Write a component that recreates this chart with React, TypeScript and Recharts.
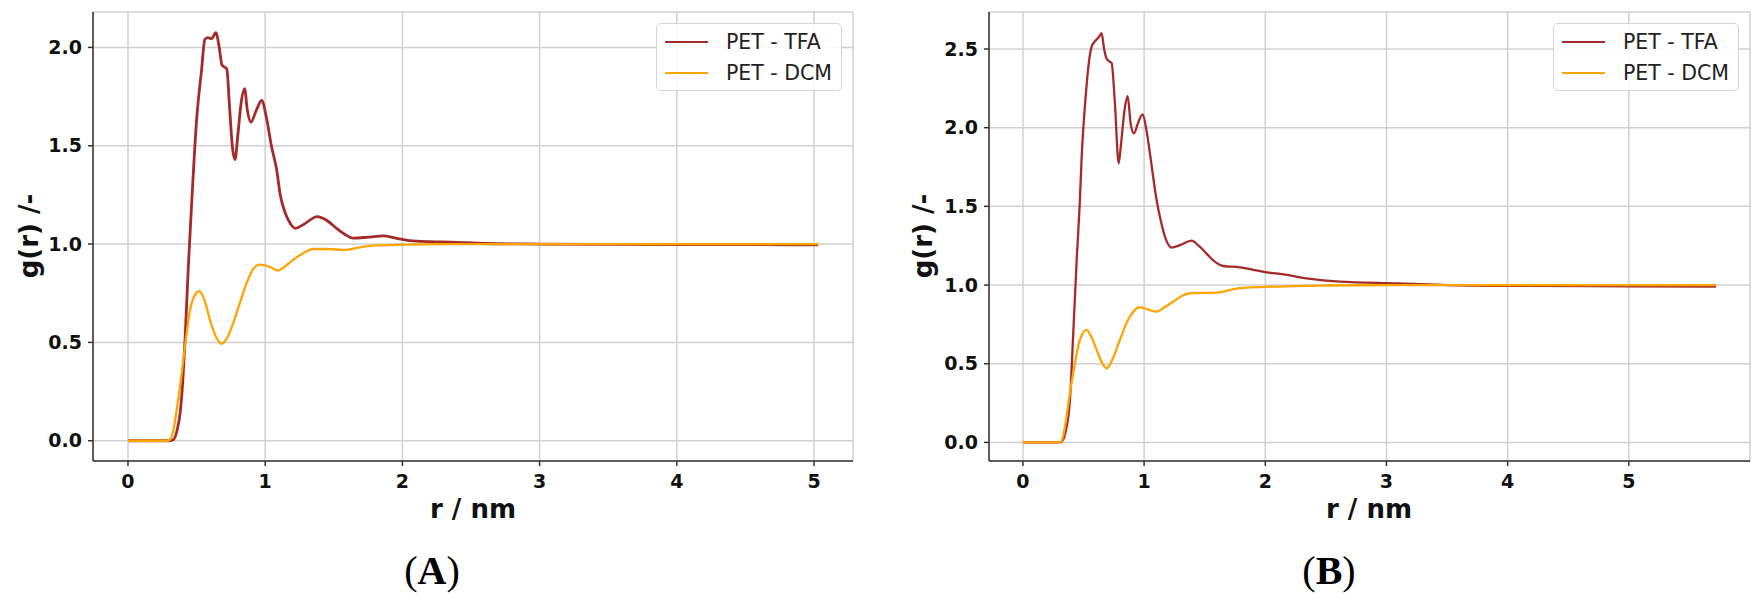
import React from "react";
import { LineChart, Line, XAxis, YAxis, CartesianGrid, Legend } from "recharts";

// panel A: r / nm and g(r)
const tfaA_r = [0, 0.3, 0.33, 0.36, 0.38, 0.4, 0.415, 0.44, 0.465, 0.5, 0.537, 0.56, 0.58, 0.61, 0.64, 0.665, 0.685, 0.72, 0.74, 0.76, 0.78, 0.8, 0.825, 0.85, 0.87, 0.896, 0.935, 0.974, 1.01, 1.045, 1.083, 1.11, 1.14, 1.17, 1.22, 1.28, 1.38, 1.45, 1.52, 1.58, 1.64, 1.75, 1.86, 1.95, 2.05, 2.2, 2.35, 2.6, 3.0, 3.5, 4.0, 4.5, 5.03];
const tfaA_g = [0, 0, 0.005, 0.06, 0.14, 0.31, 0.5, 0.89, 1.22, 1.63, 1.89, 2.04, 2.05, 2.045, 2.075, 2.0, 1.91, 1.89, 1.7, 1.5, 1.43, 1.55, 1.72, 1.79, 1.68, 1.62, 1.68, 1.73, 1.64, 1.5, 1.38, 1.25, 1.17, 1.12, 1.08, 1.1, 1.14, 1.12, 1.08, 1.05, 1.03, 1.035, 1.042, 1.03, 1.018, 1.012, 1.01, 1.003, 1.0, 0.998, 0.997, 0.997, 0.996];
const dcmA_r = [0, 0.29, 0.311, 0.335, 0.355, 0.38, 0.403, 0.43, 0.452, 0.48, 0.52, 0.56, 0.597, 0.64, 0.682, 0.72, 0.767, 0.815, 0.864, 0.91, 0.961, 1.03, 1.095, 1.15, 1.204, 1.28, 1.35, 1.45, 1.57, 1.7, 1.81, 2.0, 2.25, 3.0, 4.0, 5.03];
const dcmA_g = [0, 0, 0.01, 0.07, 0.157, 0.28, 0.41, 0.56, 0.666, 0.73, 0.76, 0.71, 0.615, 0.53, 0.493, 0.52, 0.598, 0.7, 0.8, 0.87, 0.895, 0.885, 0.866, 0.89, 0.92, 0.955, 0.975, 0.975, 0.97, 0.985, 0.993, 0.997, 1.0, 1.0, 1.0, 1.0];

// panel B
const tfaB_r = [0, 0.3, 0.319, 0.35, 0.388, 0.415, 0.443, 0.47, 0.484, 0.52, 0.545, 0.567, 0.602, 0.625, 0.649, 0.67, 0.69, 0.715, 0.732, 0.759, 0.79, 0.81, 0.84, 0.864, 0.89, 0.916, 0.95, 0.988, 1.02, 1.048, 1.103, 1.14, 1.172, 1.227, 1.3, 1.392, 1.45, 1.516, 1.58, 1.653, 1.79, 1.9, 2.01, 2.15, 2.34, 2.615, 3.11, 3.5, 4.0, 5.0, 5.72];
const tfaB_g = [0, 0, 0.005, 0.06, 0.27, 0.69, 1.15, 1.54, 1.8, 2.22, 2.42, 2.515, 2.555, 2.575, 2.6, 2.5, 2.44, 2.42, 2.41, 2.155, 1.774, 1.9, 2.12, 2.2, 2.02, 1.964, 2.03, 2.085, 1.98, 1.837, 1.54, 1.4, 1.307, 1.238, 1.255, 1.282, 1.25, 1.2, 1.15, 1.121, 1.113, 1.097, 1.081, 1.068, 1.043, 1.022, 1.011, 1.0, 0.995, 0.992, 0.99];
const dcmB_r = [0, 0.3, 0.319, 0.34, 0.36, 0.385, 0.415, 0.44, 0.47, 0.525, 0.565, 0.608, 0.65, 0.69, 0.74, 0.8, 0.85, 0.883, 0.965, 1.03, 1.103, 1.17, 1.24, 1.31, 1.378, 1.598, 1.79, 2.065, 2.48, 3.0, 5.72];
const dcmB_g = [0, 0, 0.01, 0.07, 0.164, 0.3, 0.44, 0.55, 0.651, 0.715, 0.67, 0.588, 0.51, 0.471, 0.53, 0.651, 0.75, 0.8, 0.859, 0.845, 0.831, 0.86, 0.895, 0.93, 0.948, 0.952, 0.98, 0.99, 0.997, 1.0, 1.0];

const seriesNames = ["PET - TFA", "PET - DCM"];
const xTicks = [0, 1, 2, 3, 4, 5];
const yTicksA = [0, 0.5, 1, 1.5, 2];
const yTicksB = [0, 0.5, 1, 1.5, 2, 2.5];

const zip = (r: number[], g: number[]) => r.map((x, i) => ({ r: x, g: g[i] }));

const FONT = "DejaVu Sans";
const TFA_COLOR = "#a52a2a";
const DCM_COLOR = "#ffa500";
const FRAME = "#333";

const tickStyle = { fontFamily: FONT, fontWeight: "bold", fontSize: 19, fill: "#111" };

function LegendBox({ payload }: any) {
  // keep the plotting order, not alphabetical
  const items = [...(payload || [])].sort(
    (a: any, b: any) => seriesNames.indexOf(a.value) - seriesNames.indexOf(b.value)
  );
  return (
    <div
      style={{
        width: 186,
        height: 68,
        boxSizing: "border-box",
        border: "1.5px solid #d6d6d6",
        borderRadius: 5,
        background: "rgba(255,255,255,0.85)",
        paddingTop: 2,
      }}
    >
      {items.map((p: any) => (
        <div key={p.value} style={{ display: "flex", alignItems: "center", height: 31 }}>
          <div style={{ marginLeft: 8, width: 43, height: 2, background: p.color }} />
          <span style={{ marginLeft: 18, fontFamily: FONT, fontSize: 20.5, color: "#222", lineHeight: "20px" }}>
            {p.value}
          </span>
        </div>
      ))}
    </div>
  );
}

type PanelProps = {
  tfa: { r: number; g: number }[];
  dcm: { r: number; g: number }[];
  xDomain: [number, number];
  yDomain: [number, number];
  yTicks: number[];
  width: number;
  left: number;
  right: number;
  legendLeft: number;
  yLabelX: number;
  xLabelX: number;
  tag: string;
  tagX: number;
  tfaWidth: number;
};

function Panel(p: PanelProps) {
  return (
    <LineChart
      width={p.width}
      height={604}
      margin={{ top: 12, left: p.left - 60, right: p.right, bottom: 103 }}
    >
      <CartesianGrid stroke="#d0d0d0" strokeWidth={1.5} />
      <XAxis
        dataKey="r"
        type="number"
        domain={p.xDomain}
        ticks={xTicks}
        allowDataOverflow
        tick={tickStyle}
        tickSize={5}
        tickMargin={9}
        stroke={FRAME}
        strokeWidth={1.5}
        height={40}
      />
      <XAxis
        xAxisId="top"
        orientation="top"
        type="number"
        domain={p.xDomain}
        ticks={[]}
        tick={false}
        tickLine={false}
        allowDataOverflow
        height={0}
        stroke={FRAME}
        strokeWidth={1.5}
      />
      <YAxis
        type="number"
        domain={p.yDomain}
        ticks={p.yTicks}
        allowDataOverflow
        tickFormatter={(v: number) => v.toFixed(1)}
        tick={tickStyle}
        tickSize={5}
        tickMargin={6}
        stroke={FRAME}
        strokeWidth={1.5}
        width={60}
      />
      <YAxis
        yAxisId="right"
        orientation="right"
        type="number"
        domain={p.yDomain}
        ticks={[]}
        tick={false}
        tickLine={false}
        allowDataOverflow
        width={0}
        stroke={FRAME}
        strokeWidth={1.5}
      />
      <Line
        data={p.tfa}
        dataKey="g"
        name={seriesNames[0]}
        type="monotone"
        stroke={TFA_COLOR}
        strokeWidth={p.tfaWidth}
        dot={false}
        isAnimationActive={false}
      />
      <Line
        data={p.dcm}
        dataKey="g"
        name={seriesNames[1]}
        type="monotone"
        stroke={DCM_COLOR}
        strokeWidth={2.3}
        dot={false}
        isAnimationActive={false}
      />
      <Legend
        layout="vertical"
        align="center"
        verticalAlign="middle"
        content={<LegendBox />}
        wrapperStyle={{ top: 23, left: p.legendLeft, width: 186, height: 68 }}
      />
      <text
        transform={`translate(${p.yLabelX},236) rotate(-90)`}
        textAnchor="middle"
        dominantBaseline="central"
        fontFamily={FONT}
        fontWeight="bold"
        fontSize={26}
        fill="#111"
      >
        g(r) /-
      </text>
      <text x={p.xLabelX} y={518} textAnchor="middle" fontFamily={FONT} fontWeight="bold" fontSize={26} fill="#111">
        r / nm
      </text>
      <text x={p.tagX} y={584} textAnchor="middle" fontFamily="Liberation Serif" fontSize={40} fill="#000">
        (<tspan fontWeight="bold">{p.tag}</tspan>)
      </text>
    </LineChart>
  );
}

export default function App() {
  return (
    <div style={{ position: "absolute", left: 0, top: 0, width: 1762, height: 604, background: "#fff" }}>
      <div style={{ position: "absolute", left: 0, top: 0 }}>
        <Panel
          tfa={zip(tfaA_r, tfaA_g)}
          dcm={zip(dcmA_r, dcmA_g)}
          xDomain={[-0.255, 5.284]}
          yDomain={[-0.103, 2.18]}
          yTicks={yTicksA}
          width={880}
          left={93}
          right={27}
          legendLeft={656}
          yLabelX={29}
          xLabelX={473}
          tag="A"
          tagX={432}
          tfaWidth={2.8}
        />
      </div>
      <div style={{ position: "absolute", left: 880, top: 0 }}>
        <Panel
          tfa={zip(tfaB_r, tfaB_g)}
          dcm={zip(dcmB_r, dcmB_g)}
          xDomain={[-0.28, 6.0]}
          yDomain={[-0.118, 2.735]}
          yTicks={yTicksB}
          width={882}
          left={109}
          right={12}
          legendLeft={673}
          yLabelX={43}
          xLabelX={489}
          tag="B"
          tagX={449}
          tfaWidth={2.3}
        />
      </div>
    </div>
  );
}
